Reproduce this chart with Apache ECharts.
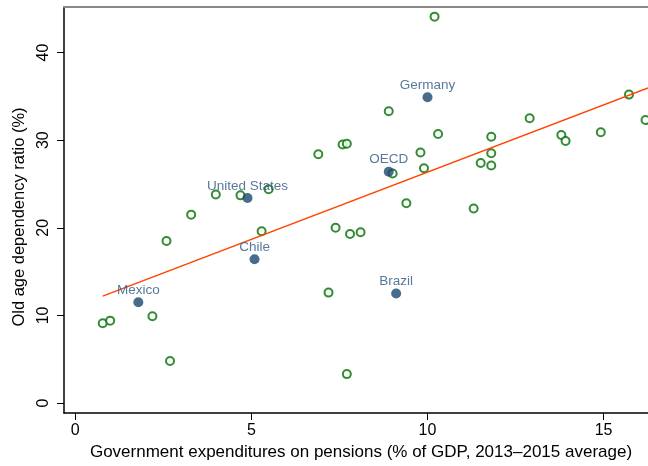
<!DOCTYPE html>
<html>
<head>
<meta charset="utf-8">
<script src="https://cdn.jsdelivr.net/npm/echarts@6/dist/echarts.min.js"></script>
<style>html,body{margin:0;padding:0;background:#fff;}#c{width:648px;height:466px;}</style>
</head>
<body>
<div id="c"></div>
<script>
// Other countries: [pension spending % GDP, old-age dependency ratio %]
var otherCountries = [
  [0.78, 9.1], [0.99, 9.4], [2.19, 9.9], [2.59, 18.5], [2.69, 4.8],
  [3.29, 21.5], [3.99, 23.8], [4.69, 23.7], [5.29, 19.6], [5.49, 24.4],
  [6.90, 28.4], [7.19, 12.6], [7.39, 20.0], [7.59, 29.5], [7.71, 29.6],
  [7.80, 19.3], [7.71, 3.3], [8.10, 19.5], [8.90, 33.3], [9.01, 26.2],
  [9.40, 22.8], [9.80, 28.6], [9.90, 26.8], [10.20, 44.1], [10.30, 30.7],
  [11.31, 22.2], [11.51, 27.4], [11.81, 30.4], [11.81, 28.5], [11.81, 27.1],
  [12.90, 32.5], [13.80, 30.6], [13.92, 29.9], [14.92, 30.9], [15.72, 35.2],
  [16.19, 32.3]
];
var highlightNames = ["Germany", "OECD", "United States", "Chile", "Mexico", "Brazil"];
var highlightX = [10.0, 8.90, 4.89, 5.09, 1.79, 9.11];
var highlightY = [34.9, 26.4, 23.4, 16.4, 11.5, 12.5];
var fitLine = [[0.78, 12.2], [16.26, 35.95]];
var xTicks = [0, 5, 10, 15];
var yTicks = [0, 10, 20, 30, 40];

var highlightData = highlightNames.map(function (n, i) {
  return { name: n, value: [highlightX[i], highlightY[i]] };
});

var chart = echarts.init(document.getElementById('c'), null, { renderer: 'canvas' });
var FONT = 'Liberation Sans';
chart.setOption({
  animation: false,
  backgroundColor: '#ffffff',
  grid: { left: 64, right: 0, top: 7, bottom: 53, containLabel: false, outerBoundsMode: 'none' },
  xAxis: [{
    type: 'value', position: 'bottom', min: -0.32, max: 16.26,
    name: 'Government expenditures on pensions (% of GDP, 2013\u20132015 average)',
    nameLocation: 'middle', nameGap: 31,
    nameTextStyle: { fontFamily: FONT, fontSize: 17, color: '#000', padding: [0, 0, 0, 10] },
    axisLine: { show: true, onZero: false, lineStyle: { color: '#000', width: 1.5 } },
    axisTick: { show: true, length: 7, lineStyle: { color: '#000', width: 1 }, customValues: xTicks },
    axisLabel: { fontFamily: FONT, fontSize: 16, color: '#000', margin: 10, customValues: xTicks },
    splitLine: { show: false }
  }, {
    type: 'value', position: 'top', min: -0.32, max: 16.26,
    axisLine: { show: true, onZero: false, lineStyle: { color: '#888', width: 2 } },
    axisTick: { show: false }, axisLabel: { show: false }, splitLine: { show: false }
  }],
  yAxis: {
    type: 'value', min: -1.14, max: 45.2,
    name: 'Old age dependency ratio (%)',
    nameLocation: 'middle', nameGap: 34, nameRotate: 90,
    nameTextStyle: { fontFamily: FONT, fontSize: 16.5, color: '#000', padding: [0, 14, 0, 0] },
    axisLine: { show: true, onZero: false, lineStyle: { color: '#000', width: 1.5 } },
    axisTick: { show: true, length: 7, lineStyle: { color: '#000', width: 1 }, customValues: yTicks },
    axisLabel: { fontFamily: FONT, fontSize: 16, color: '#000', rotate: 90, margin: 12, customValues: yTicks },
    splitLine: { show: false }
  },
  series: [{
    type: 'scatter', data: otherCountries, symbol: 'emptyCircle', symbolSize: 8,
    itemStyle: { color: '#006f00', borderWidth: 1.6 }, z: 2
  }, {
    type: 'line', data: fitLine, symbol: 'none',
    lineStyle: { color: '#ff4500', width: 1.5 }, z: 3
  }, {
    type: 'scatter', data: highlightData, symbol: 'circle', symbolSize: 10,
    itemStyle: { color: '#1a476f' }, z: 4,
    label: { show: true, position: 'top', distance: 0, formatter: '{b}',
             fontFamily: FONT, fontSize: 13.5, color: '#2c5681' }
  }]
});
</script>
</body>
</html>
